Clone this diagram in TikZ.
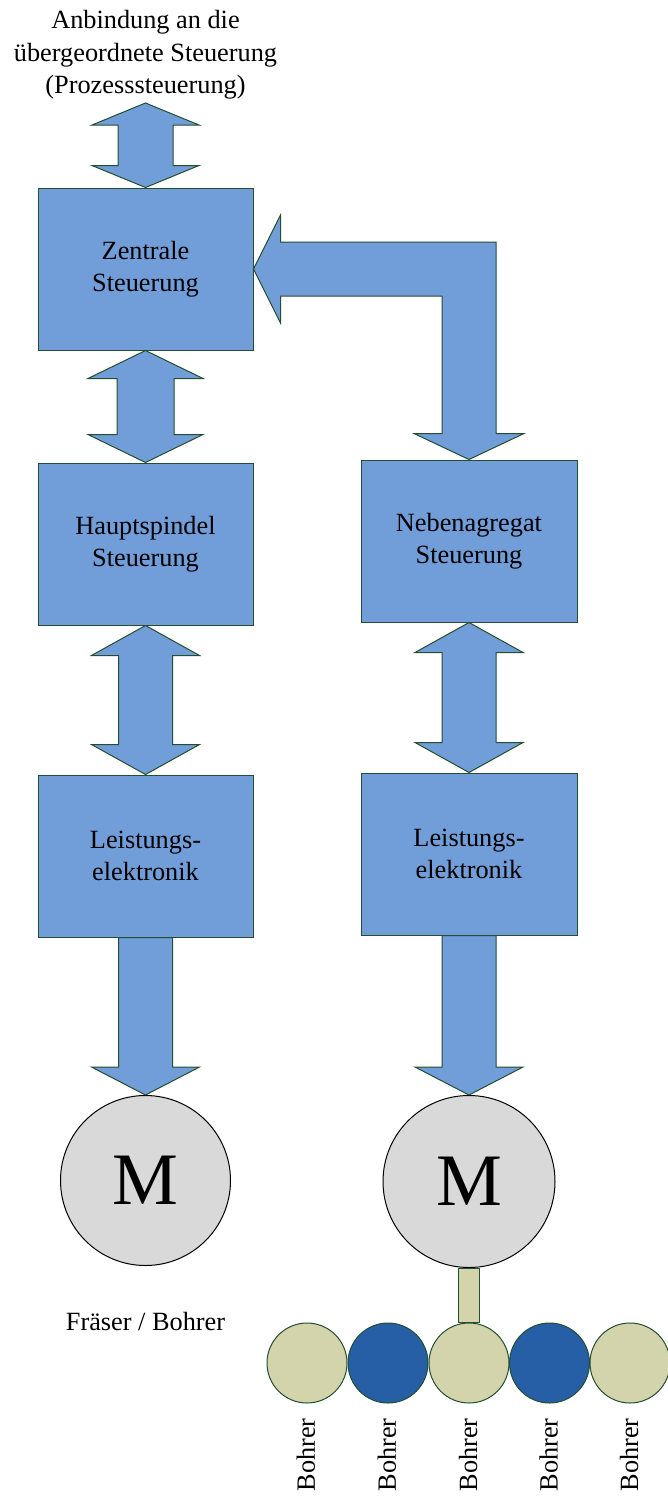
\documentclass[tikz,border=0pt]{standalone}
\usepackage{fontspec}
\setmainfont{Liberation Serif}
\usetikzlibrary{calc}

\definecolor{boxblue}{HTML}{719ED8}
\definecolor{edgegreen}{HTML}{244E30}
\definecolor{motorgray}{HTML}{D9D9D9}
\definecolor{beige}{HTML}{D3D3AC}
\definecolor{darkblue}{HTML}{275FA6}

% fat double-headed block arrow from #1 (top) down to #2 (bottom)
% #3 shaft half width, #4 head half width, #5 head length (pt)
\newcommand\fatdbl[5]{%
  \draw[flow] let \p1=(#1), \p2=(#2) in
    (\x1,\y1) -- (\x1+#4pt,\y1-#5pt) -- (\x1+#3pt,\y1-#5pt)
    -- (\x1+#3pt,\y2+#5pt) -- (\x1+#4pt,\y2+#5pt) -- (\x1,\y2)
    -- (\x1-#4pt,\y2+#5pt) -- (\x1-#3pt,\y2+#5pt)
    -- (\x1-#3pt,\y1-#5pt) -- (\x1-#4pt,\y1-#5pt) -- cycle;}

% fat single-headed block arrow pointing down from #1 to #2
\newcommand\fatdown[5]{%
  \draw[flow] let \p1=(#1), \p2=(#2) in
    (\x1-#3pt,\y1) -- (\x1+#3pt,\y1) -- (\x1+#3pt,\y2+#5pt)
    -- (\x1+#4pt,\y2+#5pt) -- (\x1,\y2) -- (\x1-#4pt,\y2+#5pt)
    -- (\x1-#3pt,\y2+#5pt) -- cycle;}

\tikzset{
  txt/.style={font=\fontsize{26.3}{32.5}\selectfont, align=center, inner sep=0pt},
  ctrlbox/.style={txt, draw=edgegreen, line width=1pt, fill=boxblue,
    minimum width=215pt, minimum height=162pt},
  flow/.style={draw=edgegreen, line width=1pt, fill=boxblue, line join=miter},
  motor/.style={circle, draw=black, line width=1pt, fill=motorgray,
    minimum size=170pt, inner sep=0pt, font=\fontsize{74}{80}\selectfont},
  drill/.style={circle, draw=edgegreen, line width=1pt, minimum size=80pt, inner sep=0pt},
  drilllabel/.style={txt, rotate=90},
  stemstyle/.style={draw=edgegreen, line width=1pt, fill=beige}
}

\begin{document}
\begin{tikzpicture}[x=1pt, y=-1pt]
\useasboundingbox (0,0) rectangle (667,1497);

% caption above the central control
\node[txt] (title) at (145.5,55) {Anbindung an die\\übergeordnete Steuerung\\(Prozesssteuerung)};
\coordinate (uplink) at (145.5,103);

% control blocks, left column
\node[ctrlbox] (zs) at (145.5,269) {Zentrale\\Steuerung};
\node[ctrlbox] (hs) at (145.5,544) {Hauptspindel\\Steuerung};
\node[ctrlbox] (le1) at (145.5,856) {Leistungs-\\elektronik};
\node[motor] (m1) at (145.5,1180.5) {M};

% control blocks, right column
\node[ctrlbox, minimum width=216pt] (ns) at (469,541) {Nebenagregat\\Steuerung};
\node[ctrlbox, minimum width=216pt] (le2) at (469,854) {Leistungs-\\elektronik};
\node[motor, minimum size=172pt] (m2) at (469,1181.5) {M};

% tools
\node[txt] (tool) at (145.5,1321) {Fräser / Bohrer};
\foreach \i/\x/\c in {1/307/beige, 2/388/darkblue, 3/469/beige, 4/549.5/darkblue, 5/630/beige} {
  \node[drill, fill=\c] (d\i) at (\x,1363) {};
  \node[drilllabel] (b\i) at (\x-1,1455) {Bohrer};
}
\draw[stemstyle] ($(m2.south)+(-10.5,0)$) rectangle ($(d3.north)+(10.5,0)$);

% signal and power flow
\fatdbl{uplink}{zs.north}{27.5}{53.5}{22}
\fatdbl{zs.south}{hs.north}{28.5}{57.5}{28}
\fatdbl{hs.south}{le1.north}{27}{54}{30}
\fatdbl{ns.south}{le2.north}{27}{54}{30}
\fatdown{le1.south}{m1.north}{27}{54}{28}
\fatdown{le2.south}{m2.north}{27}{54}{28}

% bent arrow from the central control down to the auxiliary control
\draw[flow] let \p1=(zs.east), \p2=(ns.north) in
  (\x1,\y1) -- (\x1+27pt,\y1+54pt) -- (\x1+27pt,\y1+27pt)
  -- (\x2+27pt,\y1+27pt) -- (\x2+27pt,\y2+26pt) -- (\x2+55pt,\y2+26pt)
  -- (\x2,\y2) -- (\x2-55pt,\y2+26pt) -- (\x2-27pt,\y2+26pt)
  -- (\x2-27pt,\y1-27pt) -- (\x1+27pt,\y1-27pt) -- (\x1+27pt,\y1-54pt) -- cycle;
\end{tikzpicture}
\end{document}
